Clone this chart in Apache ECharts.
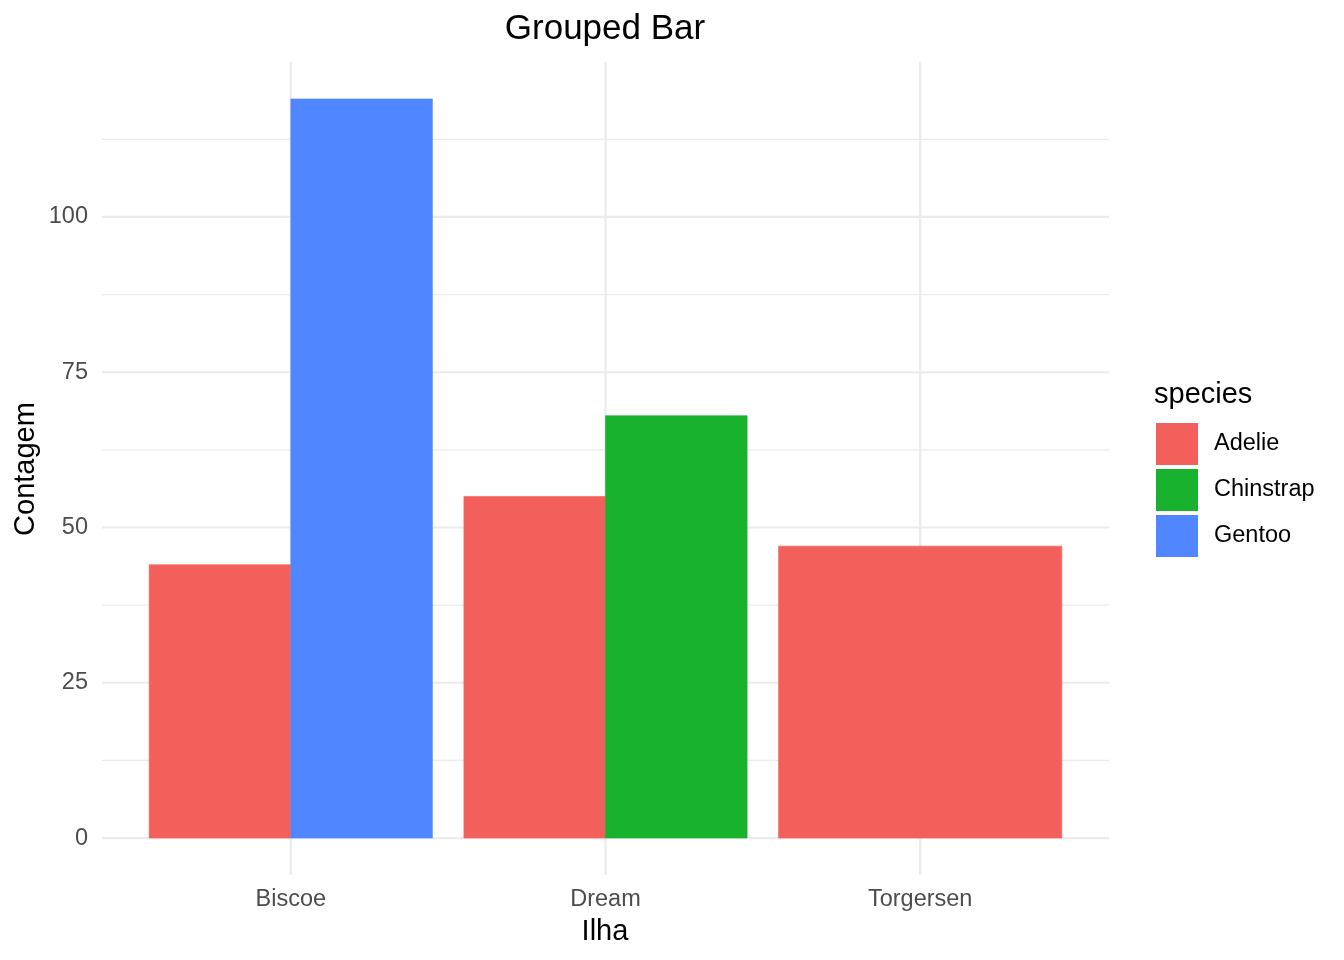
<!DOCTYPE html>
<html>
<head>
<meta charset="utf-8">
<script src="https://cdn.jsdelivr.net/npm/echarts@6/dist/echarts.min.js"></script>
<style>html,body{margin:0;padding:0;background:#fff}#c{width:1344px;height:960px}</style>
</head>
<body>
<div id="c"></div>
<script>
// ---- data ----
var islands = ['Biscoe', 'Dream', 'Torgersen'];
var species = ['Adelie', 'Chinstrap', 'Gentoo'];
// counts per island, in island order (null = species absent)
var adelie = [44, 55, 47];
var chinstrap = [null, 68, null];
var gentoo = [119, null, null];
var yTicks = [0, 25, 50, 75, 100];
var yMinorTicks = [12.5, 37.5, 62.5, 87.5, 112.5];
var colors = ['#F35F5B', '#19B22F', '#5086FF'];

var counts = [adelie, chinstrap, gentoo];
var FONT = '"Liberation Sans", Arial, Helvetica, sans-serif';

// dodge positions like ggplot2 position_dodge (width 0.9)
var barW = 0.9;
function seriesData(si) {
  var out = [];
  for (var i = 0; i < islands.length; i++) {
    if (counts[si][i] == null) continue;
    var present = [];
    for (var s = 0; s < species.length; s++) if (counts[s][i] != null) present.push(s);
    var n = present.length, k = present.indexOf(si), w = barW / n;
    var x0 = (i + 1) - barW / 2 + k * w;
    out.push([x0, x0 + w, counts[si][i]]);
  }
  return out;
}
var maxVal = 0;
counts.forEach(function (a) { a.forEach(function (v) { if (v != null && v > maxVal) maxVal = v; }); });
var yMin = -0.05 * maxVal, yMax = maxVal * 1.05;
var xMin = 1 - 0.6, xMax = islands.length + 0.6;

function barRender(params, api) {
  var p0 = api.coord([api.value(0), 0]);
  var p1 = api.coord([api.value(1), api.value(2)]);
  return {
    type: 'rect',
    shape: { x: p0[0], y: p1[1], width: p1[0] - p0[0], height: p0[1] - p1[1] },
    style: { fill: api.visual('color'), stroke: api.visual('color'), lineWidth: 0.6 }
  };
}

var hLines = yTicks.map(function (v) { return [v, 1]; }).concat(yMinorTicks.map(function (v) { return [v, 0]; }));
var vLines = islands.map(function (_, i) { return [i + 1]; });

var series = [
  {
    type: 'custom', name: 'hgrid', silent: true, z: 0,
    data: hLines,
    encode: { y: 0 },
    renderItem: function (params, api) {
      var cs = params.coordSys;
      var y = api.coord([xMin, api.value(0)])[1];
      var major = api.value(1) === 1;
      return { type: 'line', shape: { x1: cs.x, y1: y, x2: cs.x + cs.width, y2: y },
        style: { stroke: '#EBEBEB', lineWidth: major ? 2.2 : 1.1 } };
    }
  },
  {
    type: 'custom', name: 'vgrid', silent: true, z: 0,
    data: vLines,
    encode: { x: 0 },
    renderItem: function (params, api) {
      var cs = params.coordSys;
      var x = api.coord([api.value(0), 0])[0];
      return { type: 'line', shape: { x1: x, y1: cs.y, x2: x, y2: cs.y + cs.height },
        style: { stroke: '#EBEBEB', lineWidth: 2.2 } };
    }
  }
];
species.forEach(function (sp, si) {
  series.push({
    type: 'custom', name: sp, z: 2,
    itemStyle: { color: colors[si] },
    data: seriesData(si),
    encode: { x: [0, 1], y: 2 },
    renderItem: barRender
  });
});

var chart = echarts.init(document.getElementById('c'), null, { renderer: 'canvas' });
chart.setOption({
  animation: false,
  backgroundColor: '#fff',
  color: colors,
  grid: { left: 102, right: 235, top: 62, bottom: 85, containLabel: false },
  xAxis: {
    type: 'value', min: xMin, max: xMax,
    axisLine: { show: false }, axisTick: { show: false }, splitLine: { show: false },
    axisLabel: {
      customValues: islands.map(function (_, i) { return i + 1; }),
      formatter: function (v) { return islands[Math.round(v) - 1] || ''; },
      color: '#4D4D4D', fontSize: 23.5, fontFamily: FONT, margin: 13
    }
  },
  yAxis: {
    type: 'value', min: yMin, max: yMax,
    axisLine: { show: false }, axisTick: { show: false }, splitLine: { show: false },
    axisLabel: {
      customValues: yTicks,
      color: '#4D4D4D', fontSize: 23.5, fontFamily: FONT, margin: 14
    }
  },
  legend: {
    data: species, orient: 'vertical', left: 1156, top: 423, padding: 0,
    icon: 'rect', itemWidth: 42, itemHeight: 42, itemGap: 4,
    textStyle: { color: '#000', fontSize: 23.5, fontFamily: FONT, padding: [6, 0, 0, 11] },
    selectedMode: false
  },
  graphic: [
    { type: 'text', x: 605, y: 29.5, style: { text: 'Grouped Bar', fill: '#000', font: '35px ' + FONT, textAlign: 'center', textVerticalAlign: 'middle' } },
    { type: 'text', x: 605, y: 932, style: { text: 'Ilha', fill: '#000', font: '29px ' + FONT, textAlign: 'center', textVerticalAlign: 'middle' } },
    { type: 'text', x: 26, y: 469, rotation: Math.PI / 2, style: { text: 'Contagem', fill: '#000', font: '29px ' + FONT, textAlign: 'center', textVerticalAlign: 'middle' } },
    { type: 'text', x: 1154, y: 395, style: { text: 'species', fill: '#000', font: '29px ' + FONT, textAlign: 'left', textVerticalAlign: 'middle' } }
  ],
  series: series
});
</script>
</body>
</html>
